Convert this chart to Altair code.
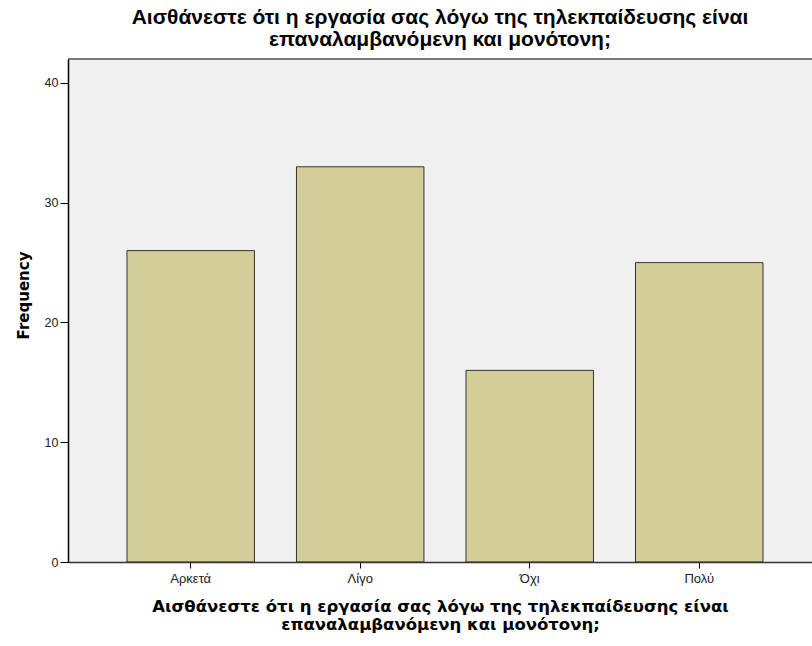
import altair as alt
import pandas as pd

# Answers and their counts
categories = ["Αρκετά", "Λίγο", "Όχι", "Πολύ"]
frequencies = [26, 33, 16, 25]
y_ticks = [0, 10, 20, 30, 40]
question = [
    "Αισθάνεστε ότι η εργασία σας λόγω της τηλεκπαίδευσης είναι",
    "επαναλαμβανόμενη και μονότονη;",
]

df = pd.DataFrame({"answer": categories, "freq": frequencies})

W, H = 744, 503

# Light grey plot-area background
panel = alt.Chart(pd.DataFrame({"v": [0]})).mark_rect(
    fill="#f0f0f0", stroke=None
).encode(x=alt.value(0), x2=alt.value(W), y=alt.value(0), y2=alt.value(H))

bars = alt.Chart(df).mark_bar(
    color="#d3ce97", stroke="#333333", strokeWidth=1
).encode(
    x=alt.X(
        "answer:N",
        sort=categories,
        scale=alt.Scale(paddingInner=0.248, paddingOuter=0.3186, align=0.546),
        axis=alt.Axis(
            title=question,
            labelAngle=0,
            labelFont="Liberation Sans",
            labelFontSize=13,
            labelColor="#222222",
            labelPadding=4,
            tickSize=6,
            tickColor="#000000",
            domainColor="#333333",
            domainWidth=1.5,
            titleFont="DejaVu Sans",
            titleFontSize=16.5,
            titleFontWeight="bold",
            titleColor="#000000",
            titlePadding=13,
            titleLineHeight=18,
            zindex=1,
        ),
    ),
    y=alt.Y(
        "freq:Q",
        scale=alt.Scale(domain=[0, 42], nice=False),
        axis=alt.Axis(
            values=y_ticks,
            title="Frequency",
            grid=False,
            labelFont="Liberation Sans",
            labelFontSize=12.5,
            labelColor="#222222",
            labelPadding=2,
            tickSize=8,
            tickColor="#000000",
            domainColor="#000000",
            domainWidth=1.5,
            titleFont="DejaVu Sans",
            titleFontSize=15,
            titleFontWeight="bold",
            titleColor="#000000",
            titlePadding=13,
            titleY=236,
            zindex=1,
        ),
    ),
)

# Frame line along the top of the plot area
top_border = alt.Chart(pd.DataFrame({"v": [0]})).mark_rule(
    color="#7a7a7a", strokeWidth=2
).encode(x=alt.value(0), x2=alt.value(W), y=alt.value(0))

chart = (
    alt.layer(panel, bars, top_border)
    .properties(
        width=W,
        height=H,
        autosize=alt.AutoSizeParams(type="none"),
        padding={"left": 68, "top": 59, "right": 0, "bottom": 84},
        title=alt.TitleParams(
            text=question,
            font="Liberation Sans",
            fontSize=21,
            fontWeight="bold",
            color="#000000",
            anchor="middle",
            lineHeight=22,
            offset=8,
        ),
    )
    .configure_view(stroke=None)
    .configure(background="#ffffff")
)

chart.save("out.html", embed_options={"renderer": "svg", "actions": False})
